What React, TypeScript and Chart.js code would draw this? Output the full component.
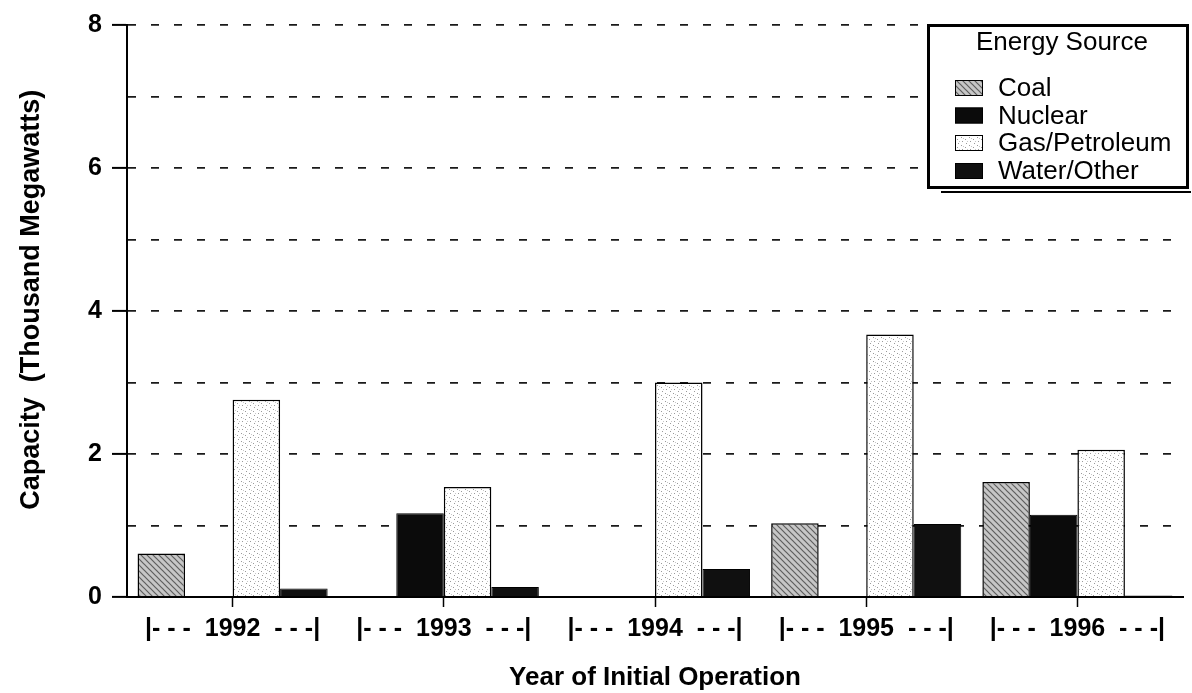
import React, { useEffect, useRef } from 'react';
import { Chart, registerables } from 'chart.js';

Chart.register(...registerables);

// ---- data ----
const years = ['1992', '1993', '1994', '1995', '1996'];
const seriesNames = ['Coal', 'Nuclear', 'Gas/Petroleum', 'Water/Other'];
const coal = [0.61, 0, 0, 1.03, 1.61];
const nuclear = [0, 1.17, 0, 0, 1.15];
const gasPetroleum = [2.76, 1.54, 3.0, 3.67, 2.06];
const waterOther = [0.12, 0.14, 0.39, 1.02, 0.02];
const yLabelledTicks = [0, 2, 4, 6, 8];
const legendTitle = 'Energy Source';
const xTitle = 'Year of Initial Operation';
const yTitle = '   Capacity  (Thousand Megawatts)';

const FONT = "'Liberation Sans', Arial, Helvetica, sans-serif";

function hatchPattern(ctx: CanvasRenderingContext2D) {
  const c = document.createElement('canvas');
  c.width = 6;
  c.height = 6;
  const g = c.getContext('2d')!;
  g.fillStyle = '#c6c6c6';
  g.fillRect(0, 0, 6, 6);
  g.strokeStyle = '#5e5e5e';
  g.lineWidth = 1.2;
  g.beginPath();
  g.moveTo(0, 0); g.lineTo(6, 6);
  g.moveTo(-3, 3); g.lineTo(3, 9);
  g.moveTo(3, -3); g.lineTo(9, 3);
  g.stroke();
  return ctx.createPattern(c, 'repeat')!;
}

function dotPattern(ctx: CanvasRenderingContext2D) {
  const c = document.createElement('canvas');
  c.width = 8;
  c.height = 8;
  const g = c.getContext('2d')!;
  g.fillStyle = '#ffffff';
  g.fillRect(0, 0, 8, 8);
  g.fillStyle = '#9a9a9a';
  g.fillRect(1, 1, 1, 1);
  g.fillRect(5, 3, 1, 1);
  g.fillRect(2, 5, 1, 1);
  g.fillRect(6, 7, 1, 1);
  g.fillStyle = '#c8c8c8';
  g.fillRect(3, 2, 1, 1);
  g.fillRect(7, 5, 1, 1);
  return ctx.createPattern(c, 'repeat')!;
}

const legendBoxPlugin = {
  id: 'legendBox',
  afterDraw(chart: any) {
    const ctx: CanvasRenderingContext2D = chart.ctx;
    const x0 = 927, y0 = 24, w = 262, h = 165;
    ctx.save();
    ctx.fillStyle = '#ffffff';
    ctx.fillRect(x0, y0, w, h);
    ctx.strokeStyle = '#000';
    ctx.lineWidth = 3;
    ctx.strokeRect(x0 + 1.5, y0 + 1.5, w - 3, h - 3);
    // shadow line under box
    ctx.lineWidth = 2;
    ctx.beginPath();
    ctx.moveTo(x0 + 14, y0 + h + 3);
    ctx.lineTo(x0 + w + 2, y0 + h + 3);
    ctx.stroke();

    ctx.fillStyle = '#000';
    ctx.font = `26px ${FONT}`;
    ctx.textBaseline = 'middle';
    ctx.textAlign = 'center';
    ctx.fillText(legendTitle, 1062, 43);

    ctx.textAlign = 'left';
    const rowY = [88, 115.5, 143, 171];
    chart.data.datasets.forEach((ds: any, i: number) => {
      const y = rowY[i];
      ctx.fillStyle = ds.backgroundColor;
      ctx.fillRect(955, y - 8, 28, 16);
      ctx.lineWidth = 1;
      ctx.strokeStyle = '#000';
      ctx.strokeRect(955.5, y - 7.5, 27, 15);
      ctx.fillStyle = '#000';
      ctx.fillText(ds.label, 998, y + 1);
    });
    ctx.restore();
  },
};

export default function App() {
  const ref = useRef<HTMLCanvasElement>(null);

  useEffect(() => {
    const canvas = ref.current!;
    const ctx = canvas.getContext('2d')!;
    const coalFill = hatchPattern(ctx);
    const gasFill = dotPattern(ctx);

    const chart = new Chart(canvas, {
      type: 'bar',
      data: {
        labels: years.map((y) => `|- - -  ${y}  - - -|`),
        datasets: [
          { label: seriesNames[0], data: coal, backgroundColor: coalFill as any, borderColor: '#000', borderWidth: 1.5 },
          { label: seriesNames[1], data: nuclear, backgroundColor: '#0b0b0b', borderColor: '#000', borderWidth: 1 },
          { label: seriesNames[2], data: gasPetroleum, backgroundColor: gasFill as any, borderColor: '#000', borderWidth: 1.5 },
          { label: seriesNames[3], data: waterOther, backgroundColor: '#101010', borderColor: '#000', borderWidth: 1 },
        ],
      },
      options: {
        responsive: false,
        animation: false,
        events: [],
        categoryPercentage: 0.9,
        barPercentage: 1.0,
        layout: { padding: { top: 21, right: 9, left: 0, bottom: 0 } },
        plugins: {
          legend: { display: false },
          tooltip: { enabled: false },
          title: { display: false },
        },
        scales: {
          x: {
            type: 'category',
            offset: true,
            grid: {
              display: true,
              drawOnChartArea: false,
              offset: false,
              tickLength: 10,
              tickColor: '#000',
              tickWidth: 1.5,
            },
            border: { display: true, color: '#000', width: 2 },
            ticks: {
              color: '#000',
              padding: 7,
              maxRotation: 0,
              autoSkip: false,
              font: { family: FONT, size: 25, weight: 'bold' },
            },
            title: {
              display: true,
              text: xTitle,
              color: '#000',
              font: { family: FONT, size: 26, weight: 'bold' },
              padding: { top: 0, bottom: 0 },
            },
            afterFit(scale: any) {
              scale.height = 96;
            },
          },
          y: {
            min: 0,
            max: 8,
            grid: {
              color: '#1a1a1a',
              lineWidth: 1.8,
              tickLength: 15,
              tickWidth: 2,
              tickColor: (c: any) => (yLabelledTicks.includes(c.tick?.value) ? '#000' : 'rgba(0,0,0,0)'),
            },
            border: { display: true, color: '#000', width: 2, dash: [8, 15] },
            ticks: {
              stepSize: 1,
              color: '#000',
              padding: 10,
              autoSkip: false,
              font: { family: FONT, size: 25, weight: 'bold' },
              callback: (v: any) => (yLabelledTicks.includes(Number(v)) ? String(v) : ''),
            },
            title: {
              display: true,
              text: yTitle,
              color: '#000',
              font: { family: FONT, size: 27, weight: 'bold' },
              padding: { top: 15, bottom: 0 },
            },
            afterFit(scale: any) {
              scale.width = 127;
            },
          },
        },
      } as any,
      plugins: [legendBoxPlugin],
    });

    return () => chart.destroy();
  }, []);

  return (
    <div style={{ position: 'fixed', left: 0, top: 0, width: 1192, height: 693, background: '#fff' }}>
      <canvas ref={ref} width={1192} height={693} style={{ display: 'block' }} />
    </div>
  );
}
